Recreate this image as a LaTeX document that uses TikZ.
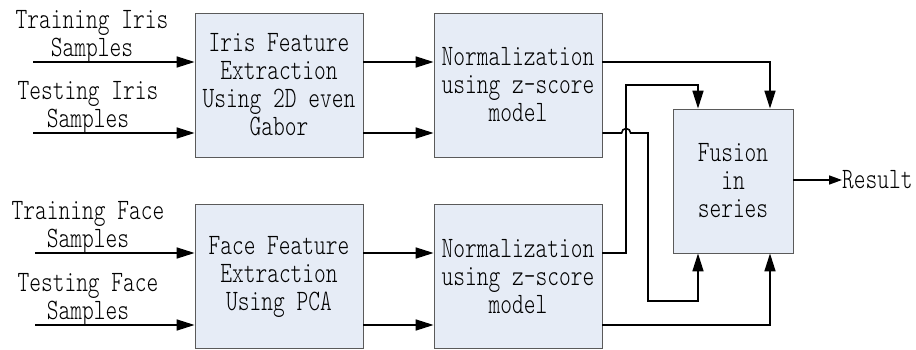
\documentclass[tikz,border=0pt]{standalone}
\usepackage{fontspec}
\usetikzlibrary{arrows.meta}
\newfontfamily\diagfont[FakeStretch=0.755]{lmmonolt10-regular.otf}
\definecolor{boxfill}{HTML}{E6ECF6}
\definecolor{boxline}{HTML}{5A5A5A}
\begin{document}
\begin{tikzpicture}[x=1pt,y=-1pt,
  every node/.style={font=\diagfont\fontsize{29.6}{28}\selectfont, align=center, inner sep=0pt},
  block/.style={draw=boxline, line width=0.8pt, fill=boxfill, minimum width=168pt, minimum height=144pt},
  fusebox/.style={block, minimum width=120pt},
  lbl/.style={anchor=south},
  arr/.style={line width=1.6pt, -{Triangle[length=18pt,width=11pt]}},
  arrsmall/.style={line width=1.6pt, -{Triangle[length=13pt,width=9pt]}}]
\useasboundingbox (0,0) rectangle (916,350);

% processing blocks
\node[block] (irisfe) at (279,85) {Iris Feature\\Extraction\\Using 2D even\\Gabor};
\node[block] (irisnorm) at (518,85) {Normalization\\using z-score\\model};
\node[block] (facefe) at (279,276.5) {Face Feature\\Extraction\\Using PCA};
\node[block] (facenorm) at (518,276.5) {Normalization\\using z-score\\model};
\node[fusebox] (fus) at (733,181) {Fusion\\in\\series};
\node[anchor=west] (res) at (842,180) {Result};

% input lines
\coordinate (tri) at (33,62);
\coordinate (tei) at (33,133);
\coordinate (trf) at (35,253);
\coordinate (tef) at (35,325);

\node[lbl] (ltri) at (92,64) {Training Iris\\Samples};
\node[lbl] (ltei) at (88,135) {Testing Iris\\Samples};
\node[lbl] (ltrf) at (88,255) {Training Face\\Samples};
\node[lbl] (ltef) at (88,327) {Testing Face\\Samples};

\draw[arr] (tri) -- (irisfe.west |- tri);
\draw[arr] (tei) -- (irisfe.west |- tei);
\draw[arr] (trf) -- (facefe.west |- trf);
\draw[arr] (tef) -- (facefe.west |- tef);

% feature extraction to normalization
\draw[arr] (irisfe.east |- tri) -- (irisnorm.west |- tri);
\draw[arr] (irisfe.east |- tei) -- (irisnorm.west |- tei);
\draw[arr] (facefe.east |- trf) -- (facenorm.west |- trf);
\draw[arr] (facefe.east |- tef) -- (facenorm.west |- tef);

% normalization to fusion
\draw[arr] (irisnorm.east |- tri) -| ([xshift=37pt]fus.north);
\draw[arr] (irisnorm.east |- tei) -- ++(19.2,0)
  arc[start angle=180, end angle=360, radius=4.5] -- (648,133)
  |- (698,301) -- ([xshift=-35pt]fus.south);
\draw[arr] (facenorm.east |- trf) -| (625.7,85) -| ([xshift=-35pt]fus.north);
\draw[arr] (facenorm.east |- tef) -| ([xshift=37pt]fus.south);

% output
\draw[arrsmall] (fus.east |- res) -- (res.west);
\end{tikzpicture}
\end{document}
